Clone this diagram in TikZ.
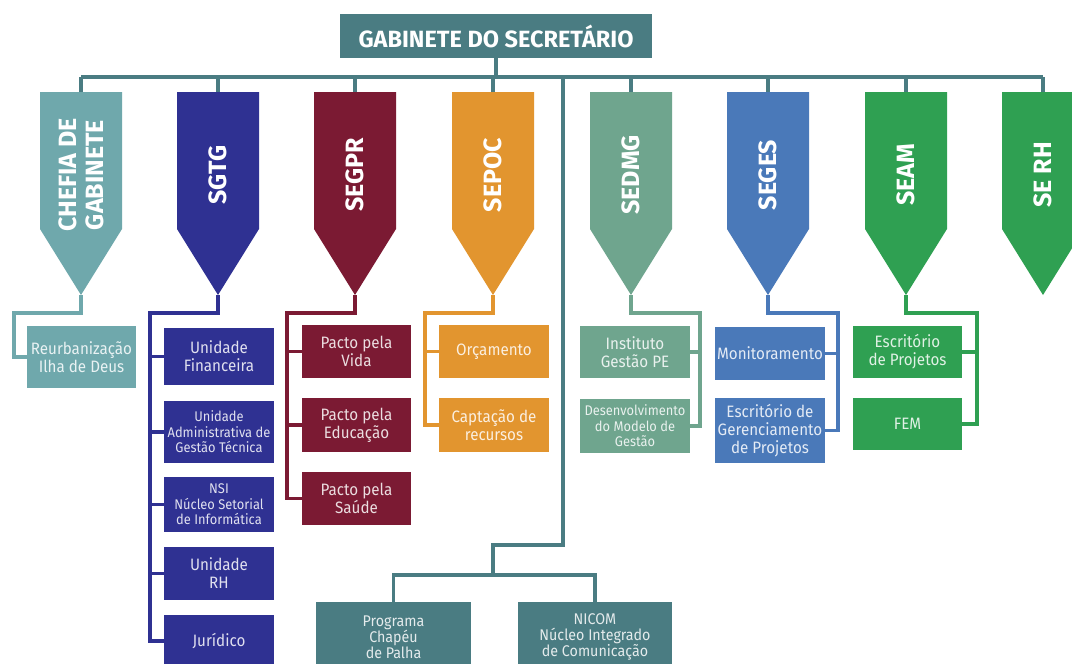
\documentclass[tikz,border=0pt]{standalone}
\usepackage{fontspec}
\setmainfont{Fira Sans}
\newfontfamily\boxfont{Fira Sans}[FakeStretch=0.92]
\definecolor{cteal}{HTML}{4A7C82}
\definecolor{cchef}{HTML}{6FA8AC}
\definecolor{csgtg}{HTML}{2F3192}
\definecolor{csegpr}{HTML}{7B1A33}
\definecolor{csepoc}{HTML}{E2952F}
\definecolor{csedmg}{HTML}{6FA58E}
\definecolor{cseges}{HTML}{4A79B9}
\definecolor{cseam}{HTML}{2FA052}
\tikzset{
  link/.style={line width=3.6pt},
  penntext/.style={rotate=90, text=white, align=center, inner sep=0pt,
    font=\fontsize{25}{27}\selectfont\bfseries},
  sub/.style={inner sep=0pt, align=center, text=white!85!#1, fill=#1,
    font=\boxfont\fontsize{16.5}{18}\selectfont},
  subsmall/.style={sub=#1, font=\boxfont\fontsize{14}{15.5}\selectfont},
  subbot/.style={sub=#1, font=\boxfont\fontsize{15.5}{16}\selectfont},
}
\newcommand\pennant[4]{%
  \fill[#3] (#2-41,92) -- (#2+41,92) -- (#2+41,229) -- (#2,295) -- (#2-41,229) -- cycle;
  \node[penntext] (#1) at (#2,175) {#4};
  \coordinate (#1top) at (#2,92);
  \coordinate (#1tip) at (#2,295);
}
\begin{document}
\begin{tikzpicture}[x=1pt,y=-1pt]
\useasboundingbox (0,0) rectangle (1072,664);
\clip (0,0) rectangle (1072,664);
\fill[white] (0,0) rectangle (1072,664);

% header
\node[fill=cteal, text=white, minimum width=312pt, minimum height=44pt, inner sep=0pt,
  font=\fontsize{23.5}{26}\selectfont\bfseries] (gab) at (496,36) {GABINETE DO SECRETÁRIO};
\coordinate (barL) at (81,77);
\coordinate (barR) at (1043,77);
\draw[link, cteal] (barL) -- (barR);
\draw[link, cteal] (gab.south) -- (gab.south |- barL);

% pennants
\pennant{chef}{81}{cchef}{CHEFIA DE\\GABINETE}
\pennant{sgtg}{218}{csgtg}{SGTG}
\pennant{segpr}{355}{csegpr}{SEGPR}
\pennant{sepoc}{493}{csepoc}{SEPOC}
\pennant{sedmg}{631}{csedmg}{SEDMG}
\pennant{seges}{768}{cseges}{SEGES}
\pennant{seam}{906}{cseam}{SEAM}
\pennant{serh}{1043}{cseam}{SE RH}
\foreach \p in {chef,sgtg,segpr,sepoc,sedmg,seges,seam,serh}
  \draw[link, cteal] (\p top) -- (\p top |- barL);

% Chefia
\node[sub=cchef, minimum width=109pt, minimum height=62pt] (reur) at (81.5,357) {Reurbanização\\Ilha de Deus};
\coordinate (chefrail) at (14,313);
\draw[link, cchef] (cheftip) |- (chefrail) |- (reur.west);

% SGTG
\node[sub=csgtg, minimum width=110pt, minimum height=57pt] (fin) at (219,356.5) {Unidade\\Financeira};
\node[subsmall=csgtg, minimum width=110pt, minimum height=62pt] (adm) at (219,432) {Unidade\\Administrativa de\\Gestão Técnica};
\node[subsmall=csgtg, minimum width=110pt, minimum height=55pt] (nsi) at (219,504.5) {NSI\\Núcleo Setorial\\de Informática};
\node[sub=csgtg, minimum width=110pt, minimum height=53pt] (urh) at (219,573.5) {Unidade\\RH};
\node[sub=csgtg, minimum width=110pt, minimum height=52pt] (jur) at (219,641) {Jurídico};
\coordinate (sgtgrail) at (150,313);
\draw[link, csgtg] (sgtgtip) |- (sgtgrail) |- (jur.west);
\foreach \n in {fin,adm,nsi,urh}
  \draw[link, csgtg] (sgtgrail |- \n.west) -- (\n.west);

% SEGPR
\node[sub=csegpr, minimum width=109pt, minimum height=53pt] (vida) at (356.5,351.5) {Pacto pela\\Vida};
\node[sub=csegpr, minimum width=109pt, minimum height=54pt] (edu) at (356.5,425) {Pacto pela\\Educação};
\node[sub=csegpr, minimum width=109pt, minimum height=53pt] (sau) at (356.5,498.5) {Pacto pela\\Saúde};
\coordinate (segprrail) at (287,313);
\draw[link, csegpr] (segprtip) |- (segprrail) |- (sau.west);
\foreach \n in {vida,edu}
  \draw[link, csegpr] (segprrail |- \n.west) -- (\n.west);

% SEPOC
\node[sub=csepoc, minimum width=110pt, minimum height=53pt] (orc) at (494,351.5) {Orçamento};
\node[sub=csepoc, minimum width=110pt, minimum height=54pt] (capt) at (494,425) {Captação de\\recursos};
\coordinate (sepocrail) at (425,313);
\draw[link, csepoc] (sepoctip) |- (sepocrail) |- (capt.west);
\draw[link, csepoc] (sepocrail |- orc.west) -- (orc.west);

% SEDMG
\node[sub=csedmg, minimum width=110pt, minimum height=52pt] (inst) at (635,352) {Instituto\\Gestão PE};
\node[subsmall=csedmg, minimum width=110pt, minimum height=54pt] (desm) at (635,426) {Desenvolvimento\\do Modelo de\\Gestão};
\coordinate (sedmgrail) at (700,313);
\draw[link, csedmg] (sedmgtip) |- (sedmgrail) |- (desm.east);
\draw[link, csedmg] (sedmgrail |- inst.east) -- (inst.east);

% SEGES
\node[sub=cseges, minimum width=110pt, minimum height=53pt] (mon) at (770,353.5) {Monitoramento};
\node[sub=cseges, minimum width=110pt, minimum height=65pt] (escg) at (770,430.5) {Escritório de\\Gerenciamento\\de Projetos};
\coordinate (segesrail) at (838,313);
\draw[link, cseges] (segestip) |- (segesrail) |- (escg.east);
\draw[link, cseges] (segesrail |- mon.east) -- (mon.east);

% SEAM
\node[sub=cseam, minimum width=109pt, minimum height=52pt] (escp) at (907.5,352) {Escritório\\de Projetos};
\node[sub=cseam, minimum width=109pt, minimum height=52pt] (fem) at (907.5,424) {FEM};
\coordinate (seamrail) at (977,313);
\draw[link, cseam] (seamtip) |- (seamrail) |- (fem.east);
\draw[link, cseam] (seamrail |- escp.east) -- (escp.east);

% bottom branch
\node[subbot=cteal, minimum width=155pt, minimum height=70pt] (prog) at (393.5,637) {Programa\\Chapéu\\de Palha};
\node[subbot=cteal, minimum width=154pt, minimum height=70pt] (nicom) at (595,637) {NICOM\\Núcleo Integrado\\de Comunicação};
\coordinate (ljoin) at (563,77);
\coordinate (lbend) at (493,545);
\coordinate (lsplit) at (493,575);
\draw[link, cteal] (ljoin) |- (lbend) -- (lsplit);
\draw[link, cteal] (lsplit) -| (prog.north);
\draw[link, cteal] (lsplit) -| (nicom.north);
\end{tikzpicture}
\end{document}
